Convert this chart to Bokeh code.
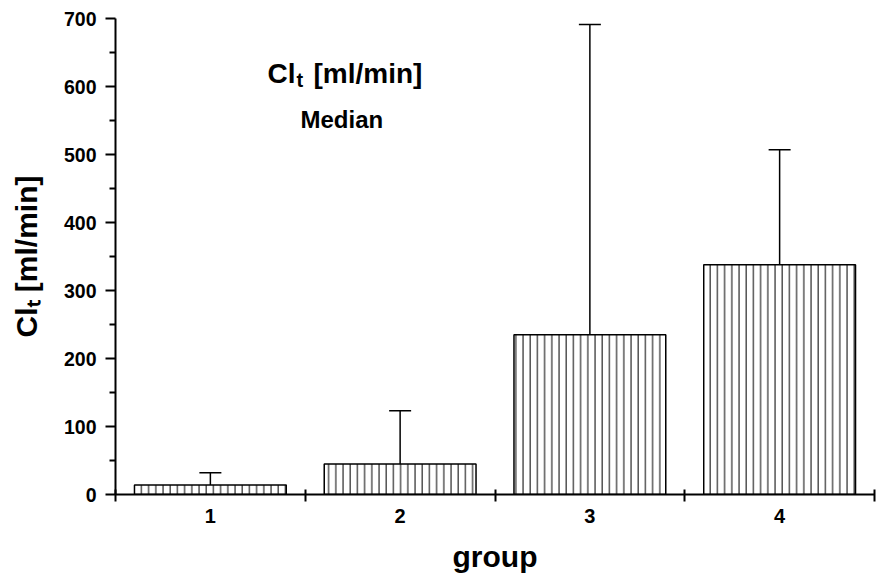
import math
from bokeh.plotting import figure
from bokeh.models import ColumnDataSource, FixedTicker, Whisker, TeeHead, Label, Range1d
from bokeh.embed import file_html
from bokeh.resources import INLINE

# ---- data ----
groups = ["1", "2", "3", "4"]
median = [14, 45, 235, 338]
upper = [32, 123, 691, 507]
y_ticks = [0, 100, 200, 300, 400, 500, 600, 700]

FONT = "Liberation Sans"

xpos = [i + 1 for i in range(len(groups))]
src = ColumnDataSource(dict(x=xpos, top=median, upper=upper))

p = figure(width=882, height=576,
           x_range=Range1d(0.5, len(groups) + 0.5), y_range=Range1d(0, 700),
           output_backend="svg", toolbar_location=None,
           min_border_left=115, min_border_right=8,
           min_border_top=18, min_border_bottom=82)
p.outline_line_color = None
p.grid.visible = False
p.background_fill_color = "white"
p.border_fill_color = "white"

p.vbar(x="x", top="top", bottom=0, width=0.8, source=src,
       fill_color="white", line_color="black", line_width=1.5,
       hatch_pattern="|", hatch_scale=7.2, hatch_weight=1, hatch_color="black")

p.add_layout(Whisker(source=src, base="x", upper="upper", lower="top",
                     dimension="height", lower_head=None,
                     upper_head=TeeHead(size=22, line_width=1.5, line_color="black"),
                     line_color="black", line_width=1.5))

# y axis
minor_y = [(a + b) / 2 for a, b in zip(y_ticks[:-1], y_ticks[1:])]
ya = p.yaxis[0]
ya.ticker = FixedTicker(ticks=y_ticks, minor_ticks=minor_y)
ya.major_tick_in = 0
ya.major_tick_out = 10
ya.minor_tick_in = 0
ya.minor_tick_out = 6
ya.axis_line_width = 2
ya.major_tick_line_width = 2
ya.minor_tick_line_width = 2
ya.major_label_text_font = FONT
ya.major_label_text_font_size = "19.5px"
ya.major_label_text_font_style = "bold"
ya.major_label_text_color = "black"
ya.major_label_standoff = 9
ya.axis_label = "Clₜ [ml/min]"
ya.axis_label_text_font = FONT
ya.axis_label_text_font_size = "30px"
ya.axis_label_text_font_style = "bold"
ya.axis_label_text_color = "black"
ya.axis_label_standoff = 18

# x axis
xa = p.xaxis[0]
bounds = [x - 0.5 for x in xpos] + [xpos[-1] + 0.5]
xa.ticker = FixedTicker(ticks=xpos, minor_ticks=bounds)
xa.major_label_overrides = {x: g for x, g in zip(xpos, groups)}
xa.major_tick_in = 0
xa.major_tick_out = 0
xa.minor_tick_in = 5
xa.minor_tick_out = 7
xa.axis_line_width = 2
xa.minor_tick_line_width = 2
xa.major_label_text_font = FONT
xa.major_label_text_font_size = "20px"
xa.major_label_text_font_style = "bold"
xa.major_label_text_color = "black"
xa.major_label_standoff = 7
xa.axis_label = "group"
xa.axis_label_text_font = FONT
xa.axis_label_text_font_size = "30px"
xa.axis_label_text_font_style = "bold"
xa.axis_label_text_color = "black"
xa.axis_label_standoff = 14

def lab(text, x, y, size):
    p.add_layout(Label(text=text, x=x, y=y, x_units="screen", y_units="screen",
                       text_font=FONT, text_font_size=size, text_font_style="bold",
                       text_color="black", text_align="left",
                       text_baseline="alphabetic"))

# in-plot title
lab("Cl", 152, 421, "28px")
lab("t", 181, 415, "20px")
lab("[ml/min]", 198, 421, "28px")
lab("Median", 185, 375, "24px")

open("out.html", "w").write(file_html(p, INLINE))
